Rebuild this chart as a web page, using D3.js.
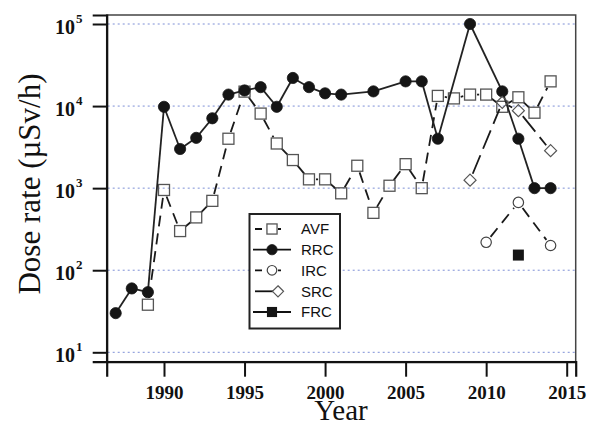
<!DOCTYPE html>
<html>
<head>
<meta charset="utf-8">
<script src="https://cdn.jsdelivr.net/npm/d3@7/dist/d3.min.js"></script>
<style>
  html, body { margin: 0; padding: 0; background: #fff; }
  svg { display: block; }
</style>
</head>
<body>
<svg id="chart" width="589" height="426"></svg>
<script>
// ---- data ----
const avfYears = [1989,1990,1991,1992,1993,1994,1995,1996,1997,1998,1999,2000,2001,2002,2003,2004,2005,2006,2007,2008,2009,2010,2011,2012,2013,2014];
const avfValues = [38,950,300,440,700,4000,15000,8100,3500,2200,1280,1280,865,1875,500,1070,1960,1000,13300,12400,13800,13800,9800,12800,8300,20000];

const rrcYears = [1987,1988,1989,1990,1991,1992,1993,1994,1995,1996,1997,1998,1999,2000,2001,2003,2005,2006,2007,2009,2011,2012,2013,2014];
const rrcValues = [30,60,54,9800,3000,4100,7100,13800,15500,17000,9800,22000,17000,14300,13800,15100,20000,20000,4000,100000,15100,4000,1000,1000];

const ircYears = [2010,2012,2014];
const ircValues = [219,670,200];

const srcYears = [2009,2011,2012,2014];
const srcValues = [1250,11100,8800,2860];

const frcYears = [2012];
const frcValues = [153];

const xTickValues = [1990,1995,2000,2005,2010,2015];
const yTickValues = [10,100,1000,10000,100000];
const yTickExponents = ["1","2","3","4","5"];
const legendLabels = ["AVF","RRC","IRC","SRC","FRC"];

// ---- layout ----
const svg = d3.select("#chart");
const L = 106.7, R = 575.7, T = 15, B = 361.7;
const pxPerYear = (566.7 - 164) / 25;
const x = d3.scaleLinear()
  .domain([1990 - (164 - L) / pxPerYear, 2015 + (R - 566.7) / pxPerYear])
  .range([L, R]);
const dec = (352.3 - 24) / 4;
const y = d3.scaleLog()
  .domain([Math.pow(10, 1 - (B - 352.3) / dec), Math.pow(10, 5 + (24 - T) / dec)])
  .range([B, T]);

// grid
svg.append("g").selectAll("line").data(yTickValues).join("line")
  .attr("x1", L + 1).attr("x2", R - 1)
  .attr("y1", d => y(d)).attr("y2", d => y(d))
  .attr("stroke", "#7d8fd6").attr("stroke-width", 1)
  .attr("stroke-dasharray", "2,3");

// box
svg.append("rect").attr("x", L).attr("y", T).attr("width", R - L).attr("height", B - T)
  .attr("fill", "none").attr("stroke", "#444").attr("stroke-width", 1.5);

// axes
const yAxis = svg.append("g").attr("transform", `translate(${L},0)`)
  .call(d3.axisLeft(y).tickValues(yTickValues).tickSize(14).tickFormat(() => ""));
yAxis.select(".domain").attr("stroke", "#111").attr("stroke-width", 2.2);
yAxis.selectAll(".tick line").attr("stroke", "#111").attr("stroke-width", 2);

yTickValues.forEach((v, i) => {
  const ty = y(v);
  svg.append("text").attr("x", 75).attr("y", ty + 10)
    .attr("text-anchor", "end")
    .attr("font-family", "'Liberation Serif', 'Times New Roman', serif")
    .attr("font-weight", "bold").attr("font-size", 20).attr("fill", "#111")
    .text("10");
  svg.append("text").attr("x", 76).attr("y", ty - 1)
    .attr("font-family", "'Liberation Serif', 'Times New Roman', serif")
    .attr("font-weight", "bold").attr("font-size", 13).attr("fill", "#111")
    .text(yTickExponents[i]);
});

const xAxis = svg.append("g").attr("transform", `translate(0,${B})`)
  .call(d3.axisBottom(x).tickValues(xTickValues).tickSize(15).tickPadding(10).tickFormat(d3.format("d")));
xAxis.select(".domain").attr("stroke", "#111").attr("stroke-width", 2.2);
xAxis.selectAll(".tick line").attr("stroke", "#111").attr("stroke-width", 2);
xAxis.selectAll(".tick text")
  .attr("font-family", "'Liberation Serif', 'Times New Roman', serif")
  .attr("font-weight", "bold").attr("font-size", 19).attr("fill", "#111")
  .attr("dy", null).attr("y", 37.5);

// axis titles
svg.append("text").attr("transform", "translate(40,184) rotate(-90)")
  .attr("text-anchor", "middle")
  .attr("font-family", "'Liberation Serif', 'Times New Roman', serif")
  .attr("font-size", 31).attr("fill", "#111")
  .text("Dose rate (µSv/h)");
svg.append("text").attr("x", 341).attr("y", 420)
  .attr("text-anchor", "middle")
  .attr("font-family", "'Liberation Serif', 'Times New Roman', serif")
  .attr("font-size", 29).attr("fill", "#111")
  .text("Year");

// ---- series ----
const plot = svg.append("g");

function drawLine(years, values, dash, gap, color) {
  const pts = years.map((yr, i) => [x(yr), y(values[i])]);
  const segs = [];
  for (let i = 0; i < pts.length - 1; i++) {
    const [x1, y1] = pts[i], [x2, y2] = pts[i + 1];
    const len = Math.hypot(x2 - x1, y2 - y1);
    if (gap > 0) {
      if (len <= 2 * gap) continue;
      const ux = (x2 - x1) / len, uy = (y2 - y1) / len;
      segs.push([x1 + ux * gap, y1 + uy * gap, x2 - ux * gap, y2 - uy * gap]);
    } else segs.push([x1, y1, x2, y2]);
  }
  plot.append("g").selectAll("line").data(segs).join("line")
    .attr("x1", d => d[0]).attr("y1", d => d[1]).attr("x2", d => d[2]).attr("y2", d => d[3])
    .attr("stroke", color).attr("stroke-width", 1.8)
    .attr("stroke-dasharray", dash);
}

function marker(g, type, cx, cy, s) {
  s = s || 1;
  if (type === "osquare") {
    g.append("rect").attr("x", cx - 5.5 * s).attr("y", cy - 5.5 * s)
      .attr("width", 11 * s).attr("height", 11 * s)
      .attr("fill", "none").attr("stroke", "#555").attr("stroke-width", 1.3);
  } else if (type === "fcircle") {
    g.append("circle").attr("cx", cx).attr("cy", cy).attr("r", 5.6 * s)
      .attr("fill", "#151515").attr("stroke", "#151515").attr("stroke-width", 0.8);
  } else if (type === "ocircle") {
    g.append("circle").attr("cx", cx).attr("cy", cy).attr("r", 5.2 * s)
      .attr("fill", "none").attr("stroke", "#444").attr("stroke-width", 1.2);
  } else if (type === "odiamond") {
    const h = 6 * s;
    g.append("path").attr("d", `M${cx},${cy - h}L${cx + h},${cy}L${cx},${cy + h}L${cx - h},${cy}Z`)
      .attr("fill", "none").attr("stroke", "#555").attr("stroke-width", 1.2);
  } else if (type === "fsquare") {
    g.append("rect").attr("x", cx - 5.5 * s).attr("y", cy - 5.5 * s)
      .attr("width", 11 * s).attr("height", 11 * s)
      .attr("fill", "#151515");
  }
}

function drawPoints(years, values, type) {
  const g = plot.append("g");
  years.forEach((yr, i) => marker(g, type, x(yr), y(values[i])));
}

drawLine(avfYears, avfValues, "11,7", 7, "#1a1a1a");
drawPoints(avfYears, avfValues, "osquare");
drawLine(rrcYears, rrcValues, null, 0, "#222");
drawPoints(rrcYears, rrcValues, "fcircle");
drawLine(ircYears, ircValues, "11,7", 7, "#1a1a1a");
drawPoints(ircYears, ircValues, "ocircle");
drawLine(srcYears, srcValues, "20,7", 7, "#1a1a1a");
drawPoints(srcYears, srcValues, "odiamond");
drawPoints(frcYears, frcValues, "fsquare");

// ---- legend ----
const lg = svg.append("g");
lg.append("rect").attr("x", 249.5).attr("y", 214).attr("width", 90.5).attr("height", 114.5)
  .attr("fill", "#fff").attr("stroke", "#222").attr("stroke-width", 2);
const legendTypes = ["osquare","fcircle","ocircle","odiamond","fsquare"];
const legendDash = ["7,16,3,40", null, "7,16,3,40", "18,40", null];
const rowY = [229, 249.7, 270.3, 291.3, 312];
legendLabels.forEach((lab, i) => {
  const cy = rowY[i];
  const x1 = (legendDash[i] ? 255 : 253);
  lg.append("line").attr("x1", x1).attr("x2", 291).attr("y1", cy).attr("y2", cy)
    .attr("stroke", "#111").attr("stroke-width", 1.8)
    .attr("stroke-dasharray", legendDash[i]);
  marker(lg, legendTypes[i], legendTypes[i] === "odiamond" ? 278 : 272, cy, 0.92);
  lg.append("text").attr("x", 301).attr("y", cy + 5.2)
    .attr("font-family", "'Liberation Sans', Arial, sans-serif")
    .attr("font-size", 15).attr("fill", "#111")
    .text(lab);
});
</script>
</body>
</html>
